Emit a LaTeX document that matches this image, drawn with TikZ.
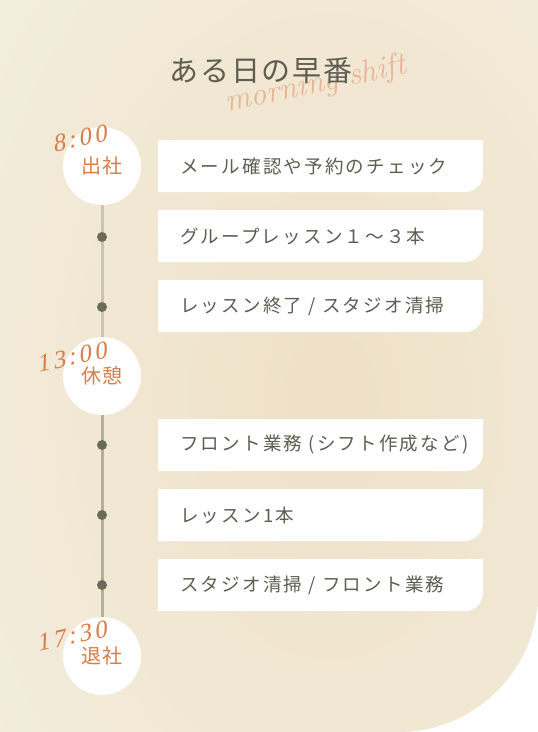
\documentclass[tikz,border=0pt]{standalone}
\usepackage{fontspec}
\usepackage{xcolor}
\usepackage{tikz}
\usetikzlibrary{positioning,calc}
\newfontfamily\jpfont{Noto Sans CJK JP}[LetterSpace=12]
\newfontfamily\titrefont{Noto Sans CJK JP}[LetterSpace=6]
\newfontfamily\haltefont{Noto Sans CJK JP}[LetterSpace=8]
\newfontfamily\heurefont{Liberation Serif}[LetterSpace=14,FakeSlant=0.25]
\definecolor{fond}{HTML}{F3EEDE}
\definecolor{lueur}{HTML}{EFE0C7}
\definecolor{encre}{HTML}{5E5D51}
\definecolor{heure}{HTML}{D97C45}
\definecolor{rose}{HTML}{E8B092}
\definecolor{jalon}{HTML}{6B6A5B}
\definecolor{railhaut}{HTML}{C9C4B5}
\definecolor{railbas}{HTML}{B3B098}

\begin{document}
\begin{tikzpicture}[x=1pt,y=-1pt,
    halte/.style={circle,fill=white,minimum size=78pt,inner sep=0pt,
      text=heure,font=\haltefont\fontsize{20}{20}\selectfont},
    entree/.style={anchor=west,inner sep=0pt,text=encre,
      font=\jpfont\fontsize{18.5}{18.5}\selectfont},
    horaire/.style={anchor=base east,rotate=12,text=heure,
      font=\heurefont\fontsize{25}{25}\selectfont},
    pointjalon/.style={circle,fill=jalon,minimum size=10pt,inner sep=0pt}]
      \useasboundingbox (0,0) rectangle (538,732);
      \fill[white] (0,0) rectangle (538,732);
      % fond beige, coin bas droit arrondi
      \begin{scope}
        \clip (0,0) -- (538,0) -- (538,592) arc[start angle=0,end angle=90,radius=140]
          -- (0,732) -- cycle;
        \fill[fond] (0,0) rectangle (538,732);
        \shade[inner color=lueur,outer color=fond] (330,400) ellipse [x radius=440,y radius=660];
      \end{scope}
      % titre
      \node[rotate=12,text=rose,opacity=.9,font=\itshape\fontsize{32}{32}\selectfont] (devise) at (316,85) {morning shift};
      \node[text=encre,font=\titrefont\fontsize{29}{29}\selectfont] (titre) at (261,71) {ある日の早番};
      % cartes
      \foreach \y/\txt [count=\i] in {140/{メール確認や予約のチェック},210/{グループレッスン１〜３本},
          280/{レッスン終了 / スタジオ清掃},419/{フロント業務 (シフト作成など)},
          489/{レッスン1本},559/{スタジオ清掃 / フロント業務}}{
        \fill[white] (158,\y) -- (483,\y) -- (483,\y+34)
          arc[start angle=0,end angle=90,radius=18] -- (158,\y+52) -- cycle;
        \node[entree] (e\i) at (180,\y+26) {\txt};}
      % frise
      \node[halte] (c1) at (102,166) {出社};
      \node[halte] (c2) at (102,376) {休憩};
      \node[halte] (c3) at (102,656) {退社};
      \draw[railhaut,line width=3pt] (c1) -- (c2);
      \draw[railbas,line width=3pt] (c2) -- (c3);
      \foreach \y [count=\i] in {237,307,445,515,585}{
        \node[pointjalon] (j\i) at (102,\y) {};}
      \node[horaire] (h1) at (111,140) {8:00};
      \node[horaire] (h2) at (111,357) {13:00};
      \node[horaire] (h3) at (111,636) {17:30};
    \end{tikzpicture}
\end{document}
